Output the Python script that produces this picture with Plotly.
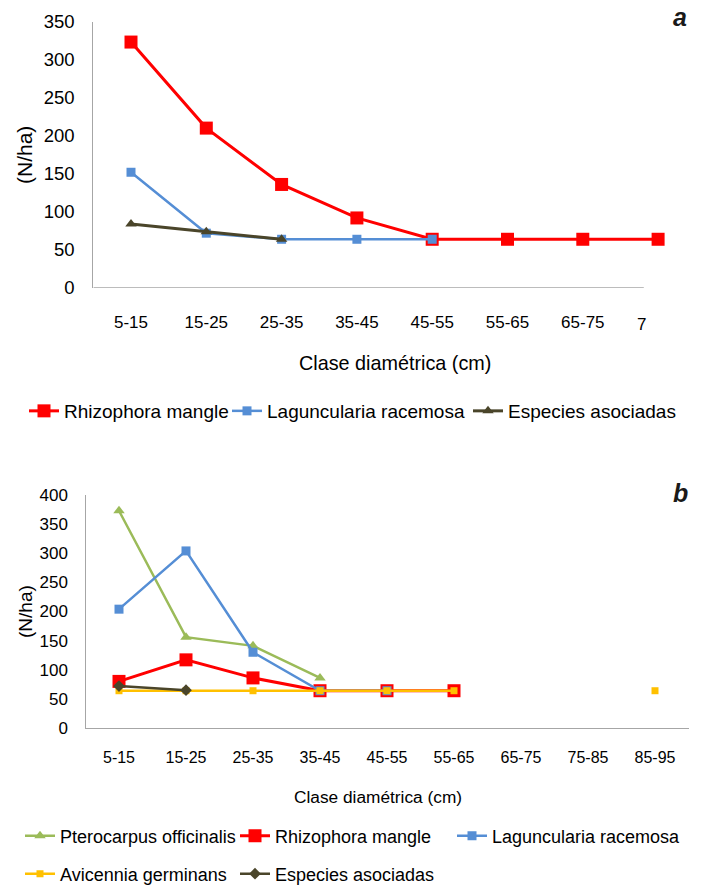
import plotly.graph_objects as go

# ---------------- data ----------------
categories_a = ["5-15", "15-25", "25-35", "35-45", "45-55", "55-65", "65-75", "75-85"]
tick_labels_a = ["5-15", "15-25", "25-35", "35-45", "45-55", "55-65", "65-75"]
truncated_label_a = "7"
rhizophora_a = [323, 210, 136, 92, 64, 64, 64, 64]
laguncularia_a = [152, 72, 64, 64, 64]
asociadas_a = [84, 74, 64]
y_ticks_a = [0, 50, 100, 150, 200, 250, 300, 350]

categories_b = ["5-15", "15-25", "25-35", "35-45", "45-55", "55-65", "65-75", "75-85", "85-95"]
pterocarpus_b = [373, 156, 141, 86]
rhizophora_b = [80, 117, 86, 64, 64, 64]
laguncularia_b = [204, 304, 130, 64, 64]
avicennia_b = [64, 64, 64, 64, 64, 64, None, None, 64]
asociadas_b = [72, 65]
y_ticks_b = [0, 50, 100, 150, 200, 250, 300, 350, 400]

# page body has an 8px default margin, so the figure is placed at (8, 8)
OFF = 8
W, H = 701 - OFF, 886 - OFF
FONT = "Liberation Sans, Arial, sans-serif"
AXIS_GRAY = "#A6A6A6"

RED = "#FF0000"
BLUE = "#558ED5"
OLIVE = "#4A452A"
GREEN = "#9BBB59"
YELLOW = "#FFC000"


def px(x):
    return (x - OFF) / W


def py(y):
    return 1 - (y - OFF) / H


fig = go.Figure()

# ---------------- chart a ----------------
fig.add_trace(go.Scatter(
    x=categories_a[:len(rhizophora_a)], y=rhizophora_a, name="Rhizophora mangle",
    mode="lines+markers", line=dict(color=RED, width=3),
    marker=dict(symbol="square", size=13, color=RED),
    xaxis="x", yaxis="y", legend="legend", cliponaxis=False))
fig.add_trace(go.Scatter(
    x=categories_a[:len(laguncularia_a)], y=laguncularia_a, name="Laguncularia racemosa",
    mode="lines+markers", line=dict(color=BLUE, width=2.5),
    marker=dict(symbol="square", size=9, color=BLUE),
    xaxis="x", yaxis="y", legend="legend2", cliponaxis=False))
fig.add_trace(go.Scatter(
    x=categories_a[:len(asociadas_a)], y=asociadas_a, name="Especies asociadas",
    mode="lines+markers", line=dict(color=OLIVE, width=3),
    marker=dict(symbol="triangle-up", size=10, color=OLIVE),
    xaxis="x", yaxis="y", legend="legend3", cliponaxis=False))

# ---------------- chart b ----------------
fig.add_trace(go.Scatter(
    x=categories_b[:len(pterocarpus_b)], y=pterocarpus_b, name="Pterocarpus officinalis",
    mode="lines+markers", line=dict(color=GREEN, width=2.5),
    marker=dict(symbol="triangle-up", size=10, color=GREEN),
    xaxis="x2", yaxis="y2", legend="legend4", cliponaxis=False))
fig.add_trace(go.Scatter(
    x=categories_b[:len(rhizophora_b)], y=rhizophora_b, name="Rhizophora mangle",
    mode="lines+markers", line=dict(color=RED, width=3),
    marker=dict(symbol="square", size=13, color=RED),
    xaxis="x2", yaxis="y2", legend="legend5", cliponaxis=False))
fig.add_trace(go.Scatter(
    x=categories_b[:len(laguncularia_b)], y=laguncularia_b, name="Laguncularia racemosa",
    mode="lines+markers", line=dict(color=BLUE, width=2.5),
    marker=dict(symbol="square", size=9, color=BLUE),
    xaxis="x2", yaxis="y2", legend="legend6", cliponaxis=False))
fig.add_trace(go.Scatter(
    x=categories_b, y=avicennia_b, name="Avicennia germinans",
    mode="lines+markers", line=dict(color=YELLOW, width=2.5), connectgaps=False,
    marker=dict(symbol="square", size=7, color=YELLOW),
    xaxis="x2", yaxis="y2", legend="legend7", cliponaxis=False))
fig.add_trace(go.Scatter(
    x=categories_b[:len(asociadas_b)], y=asociadas_b, name="Especies asociadas",
    mode="lines+markers", line=dict(color=OLIVE, width=2.5),
    marker=dict(symbol="diamond", size=9, color=OLIVE),
    xaxis="x2", yaxis="y2", legend="legend8", cliponaxis=False))


def legend_at(text_x, y, size):
    # plotly puts the legend text 40px right of the legend's left edge
    return dict(orientation="h", x=px(text_x - 38), y=py(y), xanchor="left",
                yanchor="middle", font=dict(size=size, family=FONT),
                bgcolor="rgba(0,0,0,0)", itemwidth=30)


# ---------------- layout ----------------
fig.update_layout(
    width=W, height=H, autosize=False,
    margin=dict(l=0, r=0, t=0, b=0, autoexpand=False),
    paper_bgcolor="white", plot_bgcolor="white",
    font=dict(family=FONT, color="#000000"),
    showlegend=True,
    xaxis=dict(
        type="category", categoryorder="array", categoryarray=categories_a,
        domain=[px(93.35), px(695.75)], range=[-0.5, 7.5], anchor="y",
        tickmode="array", tickvals=tick_labels_a, ticktext=tick_labels_a,
        showline=False, showgrid=False, zeroline=False, ticks="", automargin=False,
        tickfont=dict(size=17, family=FONT), ticklabelstandoff=22),
    yaxis=dict(
        domain=[py(288), py(21.5)], range=[0, 350], anchor="x",
        tickmode="array", tickvals=y_ticks_a, automargin=False,
        showline=True, linecolor=AXIS_GRAY, linewidth=1.3,
        showgrid=False, zeroline=False, ticks="",
        tickfont=dict(size=18.5, family=FONT), ticklabelstandoff=14),
    xaxis2=dict(
        type="category", categoryorder="array", categoryarray=categories_b,
        domain=[px(85.5), px(688.5)], range=[-0.5, 8.5], anchor="y2",
        showline=True, linecolor=AXIS_GRAY, linewidth=1.3, automargin=False,
        showgrid=False, zeroline=False, ticks="",
        tickfont=dict(size=16, family=FONT), ticklabelstandoff=15),
    yaxis2=dict(
        domain=[py(728), py(495)], range=[0, 400], anchor="x2",
        tickmode="array", tickvals=y_ticks_b, automargin=False,
        showline=True, linecolor=AXIS_GRAY, linewidth=1.3,
        showgrid=False, zeroline=False, ticks="",
        tickfont=dict(size=17, family=FONT), ticklabelstandoff=13),
    legend=legend_at(62, 411, 19),
    legend2=legend_at(265, 411, 19),
    legend3=legend_at(506, 411, 19),
    legend4=legend_at(58, 836, 18),
    legend5=legend_at(273, 836, 18),
    legend6=legend_at(490, 836, 18),
    legend7=legend_at(58, 874, 18),
    legend8=legend_at(273, 874, 18),
)

# x-axis line of chart a (ends before the last category, as in the reference)
fig.add_shape(type="line", xref="x", yref="y", x0=-0.5, x1=6.81, y0=0, y1=0,
              line=dict(color=AXIS_GRAY, width=1.3), layer="below")

# truncated last tick label of chart a
fig.add_annotation(xref="x", yref="paper", x=categories_a[7], y=py(324),
                   text=truncated_label_a, showarrow=False, xanchor="left",
                   yanchor="middle", xshift=-23, font=dict(size=17, family=FONT))

# axis titles
fig.add_annotation(xref="paper", yref="paper", x=px(395), y=py(363),
                   text="Clase diamétrica (cm)", showarrow=False,
                   xanchor="center", yanchor="middle", font=dict(size=19.8, family=FONT))
fig.add_annotation(xref="paper", yref="paper", x=px(378), y=py(797),
                   text="Clase diamétrica (cm)", showarrow=False,
                   xanchor="center", yanchor="middle", font=dict(size=17.3, family=FONT))
fig.add_annotation(xref="paper", yref="paper", x=px(24), y=py(155),
                   text="(N/ha)", showarrow=False, textangle=-90,
                   xanchor="center", yanchor="middle", font=dict(size=21, family=FONT))
fig.add_annotation(xref="paper", yref="paper", x=px(25), y=py(612),
                   text="(N/ha)", showarrow=False, textangle=-90,
                   xanchor="center", yanchor="middle", font=dict(size=19, family=FONT))

# panel letters
fig.add_annotation(xref="paper", yref="paper", x=px(680), y=py(17),
                   text="<b><i>a</i></b>", showarrow=False,
                   xanchor="center", yanchor="middle", font=dict(size=25, family=FONT, color="#1a1a1a"))
fig.add_annotation(xref="paper", yref="paper", x=px(680), y=py(493),
                   text="<b><i>b</i></b>", showarrow=False,
                   xanchor="center", yanchor="middle", font=dict(size=25, family=FONT, color="#1a1a1a"))

fig.write_html("out.html")
